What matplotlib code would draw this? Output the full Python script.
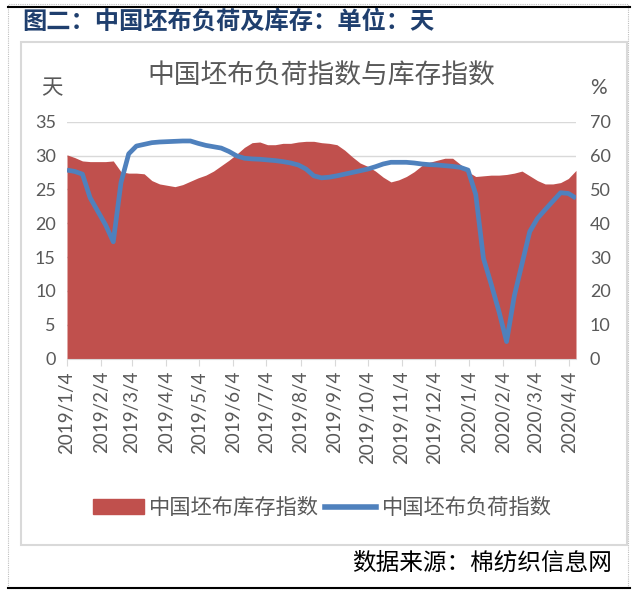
import numpy as np
import pandas as pd
import matplotlib
matplotlib.use("Agg")
import matplotlib.pyplot as plt
from matplotlib.patches import Rectangle, Patch
from matplotlib.lines import Line2D

plt.rcParams["font.family"] = ["Lato", "Noto Sans CJK SC", "DejaVu Sans"]

# data: weekly, starting 2019/1/4
dates = pd.date_range("2019-01-04", periods=67, freq="7D")
inventory = [30.1, 29.7, 29.2, 29.1, 29.1, 29.1, 29.2, 27.6, 27.4, 27.4,
             27.3, 26.3, 25.8, 25.6, 25.4, 25.7, 26.2, 26.7, 27.1, 27.7,
             28.5, 29.3, 30.2, 31.2, 31.9, 32.0, 31.6, 31.6, 31.8, 31.8,
             32.0, 32.1, 32.1, 31.9, 31.8, 31.6, 30.8, 29.8, 28.9, 28.4,
             27.7, 26.8, 26.1, 26.4, 26.9, 27.6, 28.5, 29.0, 29.3, 29.6,
             29.6, 28.7, 27.6, 26.9, 27.0, 27.1, 27.1, 27.2, 27.4, 27.7,
             27.0, 26.3, 25.8, 25.8, 26.0, 26.6, 27.8]
load = [55.7, 55.3, 54.5, 47.5, 43.5, 39.5, 34.5, 52.0, 60.5, 62.8,
        63.3, 63.8, 64.0, 64.1, 64.2, 64.3, 64.3, 63.6, 63.0, 62.6,
        62.2, 61.2, 59.9, 59.2, 59.0, 58.9, 58.7, 58.5, 58.2, 57.8,
        57.2, 56.0, 54.0, 53.4, 53.6, 54.0, 54.5, 55.0, 55.5, 56.0,
        56.7, 57.5, 58.0, 58.0, 58.0, 57.8, 57.5, 57.3, 57.2, 57.0,
        56.8, 56.5, 55.7, 48.5, 29.6, 22.0, 14.0, 5.0, 18.5, 28.0,
        37.5, 41.4, 44.0, 46.5, 49.0, 48.8, 47.4]
tick_dates = pd.date_range("2019-01-01", "2020-04-01", freq="MS") + pd.Timedelta(days=3)

red = "#C0504D"
blue = "#4F81BD"
grey_txt = "#595959"

fig = plt.figure(figsize=(6.36, 5.92), dpi=100)

# frames
fig.add_artist(Rectangle((8/636, 4/592), 620/636, 584/592, transform=fig.transFigure,
                         fill=False, ec="#BFBFBF", lw=0.8, ls=(0, (1, 1))))
fig.add_artist(Line2D([8/636, 630/636], [1-7/592, 1-7/592], transform=fig.transFigure,
                      color="black", lw=1.5))
fig.add_artist(Line2D([8/636, 630/636], [4/592, 4/592], transform=fig.transFigure,
                      color="black", lw=1.5))
fig.add_artist(Rectangle((21/636, 1-545/592), 606/636, 503/592, transform=fig.transFigure,
                         fill=False, ec="#D9D9D9", lw=1.5))

fig.text(22/636, 1-22/592, "图二：中国坯布负荷及库存：单位：天", fontsize=17.5,
         fontweight="bold", color="#1F3F6E", va="center", ha="left",
         family=["Noto Sans CJK SC"])
fig.text(612/636, 1-563/592, "数据来源：棉纺织信息网", fontsize=17, color="black",
         va="center", ha="right", family=["Noto Sans CJK SC"])
fig.text(321/636, 1-75/592, "中国坯布负荷指数与库存指数", fontsize=19.3, color=grey_txt,
         va="center", ha="center", family=["Noto Sans CJK SC"])
fig.text(52/636, 1-88/592, "天", fontsize=15.5, color=grey_txt, va="center", ha="center",
         family=["Noto Sans CJK SC"])
fig.text(598/636, 1-88/592, "%", fontsize=15, color=grey_txt, va="center", ha="center")

ax = fig.add_axes([67/636, 1-358.5/592, 509/636, 236.8/592])
ax.fill_between(dates, inventory, 0, color=red, lw=0)
ax.set_ylim(0, 35)
ax.set_yticks(np.arange(0, 36, 5))
ax.set_xlim(dates[0], dates[-1])
ax.grid(axis="y", color="#D9D9D9", lw=1)
ax.set_axisbelow(True)
for s in ["top", "left", "right"]:
    ax.spines[s].set_visible(False)
ax.spines["bottom"].set_color("#D9D9D9")
ax.tick_params(axis="y", length=0, labelsize=13, labelcolor=grey_txt, pad=8)
ax.set_xticks(tick_dates)
ax.set_xticklabels([f"{d.year}/{d.month}/{d.day}" for d in tick_dates], rotation=90)
ax.tick_params(axis="x", length=5, color="#D9D9D9", labelsize=13.5, labelcolor=grey_txt, pad=4)

ax2 = ax.twinx()
ax2.plot(dates, load, color=blue, lw=3.4, solid_joinstyle="round", solid_capstyle="butt")
ax2.set_ylim(0, 70)
ax2.set_yticks(np.arange(0, 71, 10))
for s in ["top", "left", "right", "bottom"]:
    ax2.spines[s].set_visible(False)
ax2.tick_params(axis="y", length=0, labelsize=13, labelcolor=grey_txt, pad=10)
ax2.set_xlim(dates[0], dates[-1])

handles = [Patch(color=red, label="中国坯布库存指数"),
           Line2D([], [], color=blue, lw=4, label="中国坯布负荷指数")]
leg = fig.legend(handles=handles, loc="center", bbox_to_anchor=(322/636, 1-508/592),
                 ncol=2, frameon=False, handlelength=2.4,
                 handletextpad=0.25, columnspacing=0.3,
                 prop={"family": ["Noto Sans CJK SC"], "size": 15.3})
for t in leg.get_texts():
    t.set_color(grey_txt)

plt.savefig("out.png", dpi=100)
